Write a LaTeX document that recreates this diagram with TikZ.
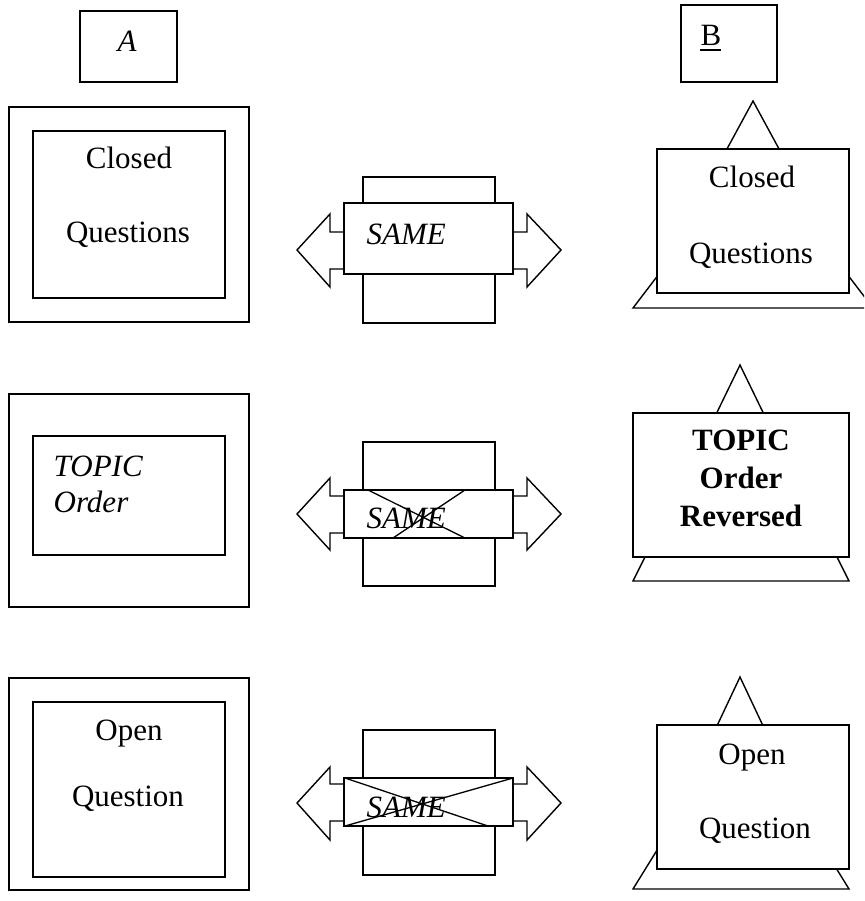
\documentclass[tikz,border=0pt]{standalone}
\usepackage{fontspec}
\setmainfont{Liberation Serif}
\begin{document}
\begin{tikzpicture}[x=1pt,y=-1pt,line width=1.4pt,
  box/.style={draw=black,fill=white},
  outl/.style={draw=black,fill=white},
  cross/.style={draw=black,line width=1.3pt},
  lbl/.style={anchor=base,inner sep=0pt,font=\fontsize{31}{37}\selectfont},
  lblw/.style={anchor=base west,inner sep=0pt,font=\fontsize{31}{37}\selectfont\itshape},
  lblb/.style={anchor=base,inner sep=0pt,font=\fontsize{31}{37}\selectfont\bfseries}]
\fill[white] (0,0) rectangle (864,901);
\clip (0,0) rectangle (864,901);

% ---------- headers ----------
\draw[box] (80,11) rectangle (177,82);
\node[lbl,font=\fontsize{31}{37}\selectfont\itshape] (hA) at (127,52) {A};
\draw[box] (681,5) rectangle (777,82);
\node[lbl] (hB) at (711,46) {B};
\draw[line width=1.2pt] (hB.base west) ++(0,4) -- ++(21,0);

% ---------- column A ----------
\draw[box] (9,107) rectangle (249,322);
\draw[box] (33,131) rectangle (225,298);
\node[lbl] (a1) at (129,169) {Closed};
\node[lbl] (a2) at (128,243) {Questions};

\draw[box] (9,394) rectangle (249,607);
\draw[box] (33,436) rectangle (225,555);
\node[lblw] (a3) at (53,476) {TOPIC};
\node[lblw] (a4) at (53,512) {Order};

\draw[box] (9,678) rectangle (249,890);
\draw[box] (33,702) rectangle (225,877);
\node[lbl] (a5) at (129,740) {Open};
\node[lbl] (a6) at (128,806) {Question};

% ---------- middle row 1 ----------
\draw[outl] (297,250) -- (330,214) -- (330,232) -- (527,232) -- (527,214)
  -- (561,250) -- (527,287) -- (527,269) -- (330,269) -- (330,287) -- cycle;
\draw[box] (363,177) rectangle (495,323);
\draw[box] (344,203) rectangle (513,274);
\node[lblw] (s1) at (366,244) {SAME};

% ---------- middle row 2 ----------
\draw[outl] (297,514) -- (330,478) -- (330,496) -- (527,496) -- (527,478)
  -- (561,514) -- (527,550) -- (527,533) -- (330,533) -- (330,550) -- cycle;
\draw[box] (363,442) rectangle (495,586);
\draw[box] (344,490) rectangle (513,538);
\node[lblw] (s2) at (366,528) {SAME};
\draw[cross] (368,490) -- (465,538);
\draw[cross] (465,490) -- (393,538);

% ---------- middle row 3 ----------
\draw[outl] (297,803) -- (330,767) -- (330,784) -- (527,784) -- (527,767)
  -- (561,803) -- (527,840) -- (527,821) -- (330,821) -- (330,840) -- cycle;
\draw[box] (363,730) rectangle (495,875);
\draw[box] (344,778) rectangle (513,826);
\node[lblw] (s3) at (366,817) {SAME};
\draw[cross] (345,778) -- (488,826);
\draw[cross] (513,778) -- (345,826);

% ---------- column B row 1 ----------
\draw[outl] (753,101) -- (715,171) -- (791,171) -- cycle;
\draw[outl] (633,308) -- (662,270) -- (844,270) -- (873,308) -- cycle;
\draw[box] (657,149) rectangle (849,293);
\node[lbl] (b1) at (752,188) {Closed};
\node[lbl] (b2) at (751,263) {Questions};

% ---------- column B row 2 ----------
\draw[outl] (740,365) -- (706,435) -- (774,435) -- cycle;
\draw[outl] (633,581) -- (657,533) -- (825,533) -- (849,581) -- cycle;
\draw[box] (633,413) rectangle (849,557);
\node[lblb] (b3) at (741,450) {TOPIC};
\node[lblb] (b4) at (741,488) {Order};
\node[lblb] (b5) at (741,526) {Reversed};

% ---------- column B row 3 ----------
\draw[outl] (740,677) -- (707,747) -- (773,747) -- cycle;
\draw[outl] (633,889) -- (688,800) -- (794,800) -- (849,889) -- cycle;
\draw[box] (657,725) rectangle (849,869);
\node[lbl] (b6) at (752,764) {Open};
\node[lbl] (b7) at (755,838) {Question};
\end{tikzpicture}
\end{document}
